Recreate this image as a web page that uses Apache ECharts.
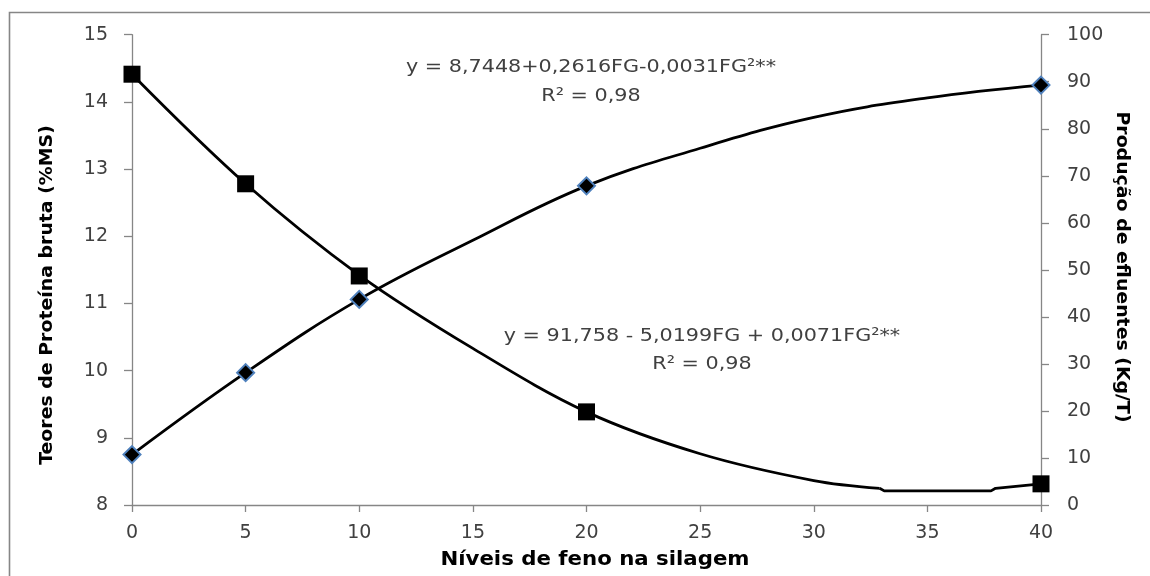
<!DOCTYPE html>
<html>
<head>
<meta charset="utf-8">
<script src="https://cdn.jsdelivr.net/npm/echarts@6/dist/echarts.min.js"></script>
<style>
html,body{margin:0;padding:0;background:#fff;}
#chart{width:1150px;height:576px;}
</style>
</head>
<body>
<div id="chart"></div>
<script>
// Observed data points
var levels = [0, 5, 10, 20, 40];
var protein = [8.75, 9.97, 11.06, 12.75, 14.25];      // left axis (%MS)
var effluent = [91.6, 68.3, 48.7, 19.8, 4.5];         // right axis (Kg/T)

// Trend curves
var proteinCurveX = [0, 5, 10, 15, 20, 25, 30, 35, 40];
var proteinCurveY = [8.75, 9.97, 11.06, 11.94, 12.75, 13.31, 13.77, 14.06, 14.25];
var effluentCurveX = [0, 5, 10, 15, 20, 25, 30, 32.9];
var effluentCurveY = [91.6, 68.3, 48.9, 33.3, 19.8, 10.9, 5.2, 3.55];
var effluentTailX = [32.9, 33.1, 37.8, 38, 40];
var effluentTailY = [3.55, 3.0, 3.0, 3.55, 4.5];

var xTicks = [0, 5, 10, 15, 20, 25, 30, 35, 40];

function pairs(xs, ys){ return xs.map(function(x,i){ return [x, ys[i]]; }); }

var FONT = 'DejaVu Sans';
var AX = '#868686';
var TXT = '#404040';

var chart = echarts.init(document.getElementById('chart'));
chart.setOption({
  animation: false,
  backgroundColor: '#fff',
  grid: {left: 132, right: 109, top: 34.7, bottom: 71, containLabel: false},
  xAxis: {
    type: 'value', min: xTicks[0], max: xTicks[xTicks.length-1], interval: 5,
    axisLine: {lineStyle: {color: AX, width: 1.3}},
    axisTick: {show: true, length: 7, lineStyle: {color: AX, width: 1.3}},
    axisLabel: {fontFamily: FONT, fontSize: 19, color: TXT, margin: 19},
    splitLine: {show: false}
  },
  yAxis: [{
    type: 'value', min: 8, max: 15, interval: 1, position: 'left',
    axisLine: {show: true, lineStyle: {color: AX, width: 1.3}},
    axisTick: {show: true, length: 8, lineStyle: {color: AX, width: 1.3}},
    axisLabel: {fontFamily: FONT, fontSize: 19, color: TXT, margin: 24},
    splitLine: {show: false}
  },{
    type: 'value', min: 0, max: 100, interval: 10, position: 'right',
    axisLine: {show: true, lineStyle: {color: AX, width: 1.3}},
    axisTick: {show: true, length: 8, lineStyle: {color: AX, width: 1.3}},
    axisLabel: {fontFamily: FONT, fontSize: 19, color: TXT, margin: 26},
    splitLine: {show: false}
  }],
  series: [
    {type: 'line', yAxisIndex: 0, data: pairs(proteinCurveX, proteinCurveY), smooth: 0.4,
     showSymbol: false, lineStyle: {color: '#000', width: 2.8}, z: 2},
    {type: 'line', yAxisIndex: 1, data: pairs(effluentCurveX, effluentCurveY), smooth: 0.35,
     showSymbol: false, lineStyle: {color: '#000', width: 2.8}, z: 2},
    {type: 'line', yAxisIndex: 1, data: pairs(effluentTailX, effluentTailY), smooth: false,
     showSymbol: false, lineStyle: {color: '#000', width: 2.8}, z: 2},
    {type: 'scatter', yAxisIndex: 0, data: pairs(levels, protein), symbol: 'diamond', symbolSize: 17,
     itemStyle: {color: '#000', borderColor: '#4f81bd', borderWidth: 2, opacity: 1}, z: 5},
    {type: 'scatter', yAxisIndex: 1, data: pairs(levels, effluent), symbol: 'rect', symbolSize: 17,
     itemStyle: {color: '#000', opacity: 1}, z: 5}
  ],
  graphic: [
    {type: 'rect', shape: {x: 9.5, y: 12.5, width: 1200, height: 600}, silent: true,
     style: {fill: 'none', stroke: AX, lineWidth: 1.6}},
    {type: 'text', x: 47, y: 295, rotation: Math.PI/2, scaleX: 1.05, silent: true,
     style: {text: 'Teores de Proteína bruta (%MS)', fontFamily: FONT, fontWeight: 'bold', fontSize: 18,
             fill: '#000', textAlign: 'center', textVerticalAlign: 'middle'}},
    {type: 'text', x: 1122, y: 267, rotation: -Math.PI/2, scaleX: 1.05, silent: true,
     style: {text: 'Produção de efluentes (Kg/T)', fontFamily: FONT, fontWeight: 'bold', fontSize: 18,
             fill: '#000', textAlign: 'center', textVerticalAlign: 'middle'}},
    {type: 'text', x: 595, y: 560, scaleX: 1.12, silent: true,
     style: {text: 'Níveis de feno na silagem', fontFamily: FONT, fontWeight: 'bold', fontSize: 19,
             fill: '#000', textAlign: 'center', textVerticalAlign: 'middle'}},
    {type: 'text', x: 591, y: 67, scaleX: 1.12, silent: true,
     style: {text: 'y = 8,7448+0,2616FG-0,0031FG²**', fontFamily: FONT, fontSize: 18.5,
             fill: TXT, textAlign: 'center', textVerticalAlign: 'middle'}},
    {type: 'text', x: 591, y: 96, scaleX: 1.12, silent: true,
     style: {text: 'R² = 0,98', fontFamily: FONT, fontSize: 18.5,
             fill: TXT, textAlign: 'center', textVerticalAlign: 'middle'}},
    {type: 'text', x: 702, y: 336, scaleX: 1.12, silent: true,
     style: {text: 'y = 91,758 - 5,0199FG + 0,0071FG²**', fontFamily: FONT, fontSize: 18.5,
             fill: TXT, textAlign: 'center', textVerticalAlign: 'middle'}},
    {type: 'text', x: 702, y: 364, scaleX: 1.12, silent: true,
     style: {text: 'R² = 0,98', fontFamily: FONT, fontSize: 18.5,
             fill: TXT, textAlign: 'center', textVerticalAlign: 'middle'}}
  ]
});
</script>
</body>
</html>
